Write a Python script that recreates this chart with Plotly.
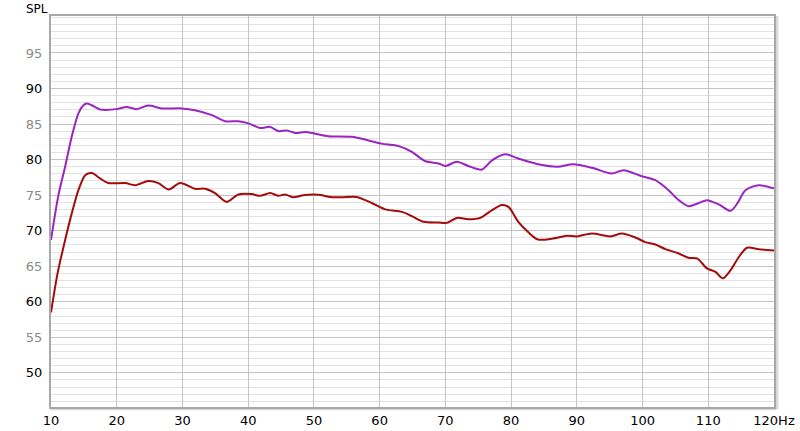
import plotly.graph_objects as go

# Frequencies (Hz) and SPL (dB)
purple_f = [10.0, 11.13, 12.15, 13.15, 14.17, 14.93, 15.43, 16.2, 17.47, 20.0, 21.5, 23.0, 24.8, 26.85,
            29.9, 31.9, 34.5, 36.5, 38.5, 40.05, 41.8, 43.35, 44.6, 45.9, 47.15, 48.7, 50.2, 52.2,
            55.8, 58.3, 60.3, 62.9, 64.9, 66.9, 69.0, 70.0, 71.75, 73.5, 75.55, 77.1, 79.1, 81.1,
            84.1, 87.1, 89.4, 92.3, 95.3, 97.1, 99.9, 101.95, 103.95, 105.5, 107.0, 108.55,
            109.8, 111.6, 113.4, 114.4, 115.65, 117.7, 120.0]
purple_db = [68.7, 75.0, 79.0, 83.2, 86.5, 87.65, 87.9, 87.65, 87.05, 87.1, 87.4, 87.1, 87.6, 87.2,
             87.2, 86.95, 86.25, 85.4, 85.4, 85.1, 84.45, 84.6, 84.0, 84.1, 83.75, 83.9, 83.65, 83.3,
             83.2, 82.7, 82.25, 81.9, 81.1, 79.8, 79.45, 79.1, 79.7, 79.1, 78.6, 79.9, 80.75, 80.15,
             79.35, 79.0, 79.35, 78.85, 78.05, 78.5, 77.65, 77.1, 75.7, 74.3, 73.45, 73.9,
             74.3, 73.7, 72.8, 73.8, 75.7, 76.4, 75.95]

red_f = [10.0, 11.0, 12.15, 13.15, 14.17, 15.2, 16.2, 17.47, 18.7, 21.3, 22.8, 24.8, 26.35, 27.9,
         29.65, 31.9, 33.45, 34.95, 36.75, 38.5, 40.55, 41.8, 43.35, 44.6, 45.6, 46.9, 48.4, 50.7,
         52.5, 54.25, 56.5, 58.8, 60.85, 63.4, 64.9, 66.7, 69.0, 70.2, 71.75, 73.5, 75.3, 77.1,
         78.6, 79.6, 81.1, 82.6, 84.1, 86.35, 88.5, 90.0, 92.3, 95.1, 96.85, 98.9, 100.4,
         101.95, 103.5, 105.5, 107.0, 108.3, 109.8, 111.1, 112.2, 113.4, 114.65, 115.9, 117.7, 120.0]
red_db = [58.5, 64.0, 68.7, 72.4, 75.7, 77.8, 78.1, 77.35, 76.7, 76.7, 76.4, 77.0, 76.7, 75.8,
          76.7, 75.9, 75.9, 75.3, 74.05, 75.1, 75.15, 74.9, 75.3, 74.9, 75.1, 74.7, 75.0, 75.05,
          74.75, 74.7, 74.75, 73.9, 73.0, 72.65, 72.05, 71.25, 71.15, 71.1, 71.8, 71.6, 71.8, 72.9,
          73.6, 73.35, 71.25, 69.8, 68.75, 68.9, 69.3, 69.2, 69.6, 69.2, 69.6, 69.05, 68.4,
          68.05, 67.4, 66.8, 66.2, 66.1, 64.7, 64.2, 63.3, 64.45, 66.3, 67.6, 67.4, 67.2]

x_ticks = [10, 20, 30, 40, 50, 60, 70, 80, 90, 100, 110, 120]
x_ticktext = ["10", "20", "30", "40", "50", "60", "70", "80", "90", "100", "110", "120Hz"]
y_ticks = [50, 55, 60, 65, 70, 75, 80, 85, 90, 95]
y_ticktext = ["50", "<span style='color:#8a8a8a'>55</span>", "60",
              "<span style='color:#8a8a8a'>65</span>", "70",
              "<span style='color:#8a8a8a'>75</span>", "80",
              "<span style='color:#8a8a8a'>85</span>", "90",
              "<span style='color:#8a8a8a'>95</span>"]

fig = go.Figure()
fig.add_trace(go.Scatter(x=purple_f, y=purple_db, mode="lines",
                         line=dict(color="#9a24c2", width=2, shape="spline", smoothing=0.8),
                         hoverinfo="skip"))
fig.add_trace(go.Scatter(x=red_f, y=red_db, mode="lines",
                         line=dict(color="#a30c0c", width=2, shape="spline", smoothing=0.8),
                         hoverinfo="skip"))

font = "DejaVu Sans, Lucida Grande, sans-serif"
fig.update_layout(
    width=800, height=431,
    margin=dict(l=51, r=26, t=16, b=24),
    paper_bgcolor="white", plot_bgcolor="white",
    showlegend=False,
    font=dict(family=font, size=13, color="black"),
    xaxis=dict(range=[10, 120], tickvals=x_ticks, ticktext=x_ticktext, automargin=False,
               showgrid=True, gridcolor="#c4c4c4", gridwidth=1,
               showline=True, linecolor="#a8a8a8", linewidth=2, mirror=True,
               ticks="", zeroline=False, tickfont=dict(size=13, color="black")),
    yaxis=dict(range=[45.2, 100.2], tickvals=y_ticks, ticktext=y_ticktext, automargin=False,
               showgrid=True, gridcolor="#c4c4c4", gridwidth=1,
               minor=dict(dtick=1, tick0=0, showgrid=True, gridcolor="#e2e2e2", gridwidth=1),
               showline=True, linecolor="#a8a8a8", linewidth=2, mirror=True,
               ticks="", zeroline=False, ticklabelstandoff=4,
               tickfont=dict(size=13, color="black")),
    annotations=[dict(text="SPL", xref="paper", yref="paper", x=0, y=1.0,
                      xanchor="center", yanchor="bottom", showarrow=False, xshift=-14,
                      font=dict(size=12, color="black"), yshift=-2)],
    shapes=[
        dict(type="line", xref="paper", yref="paper", x0=1.004, x1=1.004, y0=-0.005, y1=1.0,
             line=dict(color="#d8d8d8", width=3), layer="below"),
        dict(type="line", xref="paper", yref="paper", x0=0, x1=1.004, y0=-0.006, y1=-0.006,
             line=dict(color="#d8d8d8", width=2), layer="below"),
    ],
)

fig.write_html("out.html", config={"displayModeBar": False},
               post_script="document.body.style.margin='0';")
